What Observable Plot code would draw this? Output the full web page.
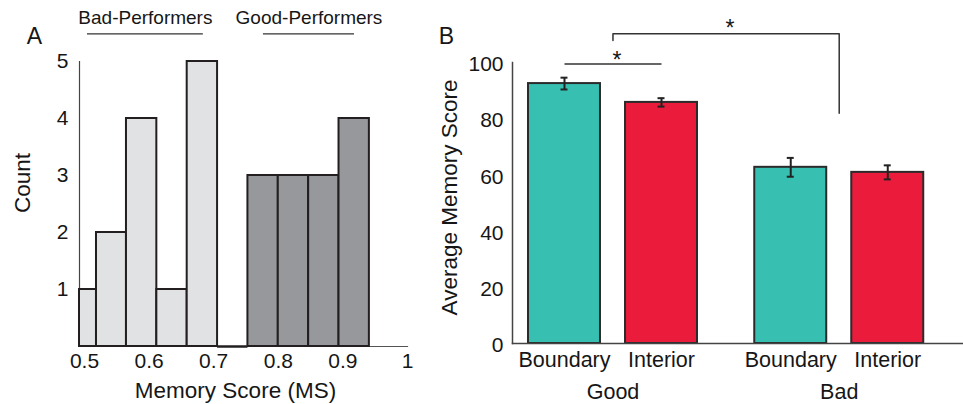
<!DOCTYPE html>
<html>
<head>
<meta charset="utf-8">
<script src="https://cdn.jsdelivr.net/npm/d3@7"></script>
<script src="https://cdn.jsdelivr.net/npm/@observablehq/plot@0.6"></script>
<style>
  html, body { margin: 0; padding: 0; background: #fff; }
  #wrap { position: relative; width: 963px; height: 404px; overflow: hidden; font-family: "Liberation Sans", Arial, sans-serif; }
  #wrap svg { position: absolute; top: 0; }
</style>
</head>
<body>
<div id="wrap"></div>
<script>
// ---------- Panel A data (histogram) ----------
const binEdges = [0.4923, 0.5186, 0.565, 0.612, 0.659, 0.706, 0.753, 0.800, 0.847, 0.894, 0.941];
const binCounts = [1, 2, 4, 1, 5, 0, 3, 3, 3, 4];
const binGroup = ["Bad", "Bad", "Bad", "Bad", "Bad", "Bad", "Good", "Good", "Good", "Good"];
const xTicksA = [0.5, 0.6, 0.7, 0.8, 0.9, 1];
const xTickLabelsA = ["0.5", "0.6", "0.7", "0.8", "0.9", "1"];
const yTicksA = [1, 2, 3, 4, 5];
const yTickLabelsA = ["1", "2", "3", "4", "5"];
const performerNames = ["Bad-Performers", "Good-Performers"];
const performerFrom = [0.5046, 0.777];
const performerTo = [0.684, 0.918];

// ---------- Panel B data (bars) ----------
const groups = ["Good", "Bad"];
const conditions = ["Boundary", "Interior"];
const barGroup = ["Good", "Good", "Bad", "Bad"];
const barCondition = ["Boundary", "Interior", "Boundary", "Interior"];
const barMean = [92.5, 85.8, 62.7, 60.9];
const barSem = [2.1, 1.5, 3.35, 2.5];
const yTicksB = [0, 20, 40, 60, 80, 100];
// significance annotations
const withinPair = [{group: "Good", from: "Boundary", to: "Interior", level: 99.5, star: 98.2}];
const betweenGroup = ["Good", "Good", "Bad", "Bad"];
const betweenLevel = [107.8, 110.2, 110.2, 81.9];
const betweenStar = 109.6;

const FONT = '"Liberation Sans", Arial, sans-serif';
const INK = "#161616";

// ---------- build tables ----------
const bins = binCounts.map((c, i) => ({x1: binEdges[i], x2: binEdges[i + 1], count: c, group: binGroup[i]}));
const performers = performerNames.map((n, i) => ({name: n, x1: performerFrom[i], x2: performerTo[i]}));
const bars = barMean.map((v, i) => ({group: barGroup[i], condition: barCondition[i], value: v, err: barSem[i]}));
const between = betweenGroup.map((g, i) => ({group: g, level: betweenLevel[i]}));

const wrap = document.getElementById("wrap");

// ---------- Panel A ----------
const chartA = Plot.plot({
  width: 420, height: 404,
  marginLeft: 79, marginRight: 13, marginTop: 61, marginBottom: 58,
  style: {fontFamily: FONT, color: INK, background: "transparent", overflow: "visible"},
  x: {domain: [0.4923, 1.0]},
  y: {domain: [0, 5]},
  color: {domain: ["Bad", "Good"], range: ["#e1e2e4", "#97989c"]},
  marks: [
    Plot.frame({anchor: "left", stroke: "#444", strokeWidth: 1.2}),
    Plot.frame({anchor: "bottom", stroke: "#555", strokeWidth: 1.2}),
    Plot.rectY(bins.filter(d => d.count > 0), {x1: "x1", x2: "x2", y: "count", fill: "group", stroke: "#231f20", strokeWidth: 2}),
    Plot.ruleY(bins.filter(d => d.count === 0), {x1: "x1", x2: "x2", y: "count", stroke: "#231f20", strokeWidth: 2.5}),
    Plot.axisY({ticks: yTicksA, tickFormat: d => yTickLabelsA[yTicksA.indexOf(d)], tickSize: 0, tickPadding: 11, fontSize: 21, label: null}),
    Plot.axisX({ticks: xTicksA, tickFormat: d => xTickLabelsA[xTicksA.indexOf(d)], tickSize: 0, tickPadding: 7, fontSize: 21, label: null}),
    Plot.ruleY(performers, {x1: "x1", x2: "x2", y: 5.486, stroke: "#333", strokeWidth: 1.3}),
    Plot.text(performers, {x: d => (d.x1 + d.x2) / 2, y: 5.66, text: "name", lineAnchor: "bottom", fontSize: 19, fill: INK}),
    Plot.text(["Memory Score (MS)"], {text: d => d, frameAnchor: "bottom", dy: 51, dx: -8, lineAnchor: "bottom", textAnchor: "middle", fontSize: 22.5, fill: INK}),
    Plot.text(["Count"], {text: d => d, frameAnchor: "left", rotate: -90, textAnchor: "middle", dx: -57, dy: -21, fontSize: 22.5, fill: INK}),
    Plot.text(["A"], {text: d => d, frameAnchor: "top-left", dx: -45, dy: -18, lineAnchor: "bottom", textAnchor: "middle", fontSize: 23, fill: INK})
  ]
});
chartA.style.left = "0px";
wrap.appendChild(chartA);

// ---------- Panel B (faceted bars) ----------
const chartB = Plot.plot({
  width: 543, height: 404,
  marginLeft: 92, marginRight: 23.75, marginTop: 62, marginBottom: 61,
  style: {fontFamily: FONT, color: INK, background: "transparent", overflow: "visible"},
  fx: {domain: groups, paddingInner: 0.1116, paddingOuter: 0, round: false},
  x: {domain: conditions, paddingInner: 0.258, paddingOuter: 0.165, round: false},
  y: {domain: [0, 100]},
  color: {domain: conditions, range: ["#37bfb1", "#eb1b3b"]},
  marks: [
    Plot.barY(bars, {fx: "group", x: "condition", y: "value", fill: "condition", stroke: "#2b2b2b", strokeWidth: 2}),
    Plot.ruleX(bars, {fx: "group", x: "condition", y1: d => d.value - d.err, y2: d => d.value + d.err, stroke: "#222", strokeWidth: 2}),
    Plot.tickY(bars, {fx: "group", x: "condition", y: d => d.value - d.err, insetLeft: 32.5, insetRight: 32.5, stroke: "#222", strokeWidth: 2}),
    Plot.tickY(bars, {fx: "group", x: "condition", y: d => d.value + d.err, insetLeft: 32.5, insetRight: 32.5, stroke: "#222", strokeWidth: 2}),
    Plot.link(withinPair, {fx: "group", x1: "from", x2: "to", y1: "level", y2: "level", stroke: "#333", strokeWidth: 1.5}),
    Plot.text(withinPair, {fx: "group", y: "star", text: () => "*", lineAnchor: "bottom", fontSize: 23, fill: INK, dx: 4}),
    Plot.axisY({ticks: yTicksB, tickSize: 0, tickPadding: 9, fontSize: 21, dy: 2, label: null}),
    Plot.axisX({tickSize: 0, tickPadding: 8, fontSize: 21.5, label: null}),
    Plot.axisFx({anchor: "bottom", tickSize: 0, tickPadding: 40, fontSize: 21.5, label: null})
  ]
});
chartB.style.left = "420px";
wrap.appendChild(chartB);

// ---------- Panel B overlay (group-level annotations, axis lines) ----------
const chartB2 = Plot.plot({
  width: 543, height: 404,
  marginLeft: 92, marginRight: 0, marginTop: 62, marginBottom: 61,
  style: {fontFamily: FONT, color: INK, background: "transparent", overflow: "visible"},
  x: {type: "point", domain: groups, padding: 0.4967, align: 0.447, round: false, axis: null},
  y: {domain: [0, 100], axis: null},
  marks: [
    Plot.frame({anchor: "left", stroke: "#444", strokeWidth: 1.5}),
    Plot.frame({anchor: "bottom", stroke: "#444", strokeWidth: 1.5}),
    Plot.line(between, {x: "group", y: "level", stroke: "#333", strokeWidth: 1.5}),
    Plot.text(["*"], {text: d => d, y: betweenStar, dx: -8, lineAnchor: "bottom", fontSize: 23, fill: INK}),
    Plot.text(["Average Memory Score"], {text: d => d, frameAnchor: "left", rotate: -90, textAnchor: "middle", dx: -63, dy: -5.5, fontSize: 22.5, fill: INK}),
    Plot.text(["B"], {text: d => d, frameAnchor: "top-left", dx: -66, dy: -19, lineAnchor: "bottom", textAnchor: "middle", fontSize: 23, fill: INK})
  ]
});
chartB2.style.left = "420px";
wrap.appendChild(chartB2);
</script>
</body>
</html>
